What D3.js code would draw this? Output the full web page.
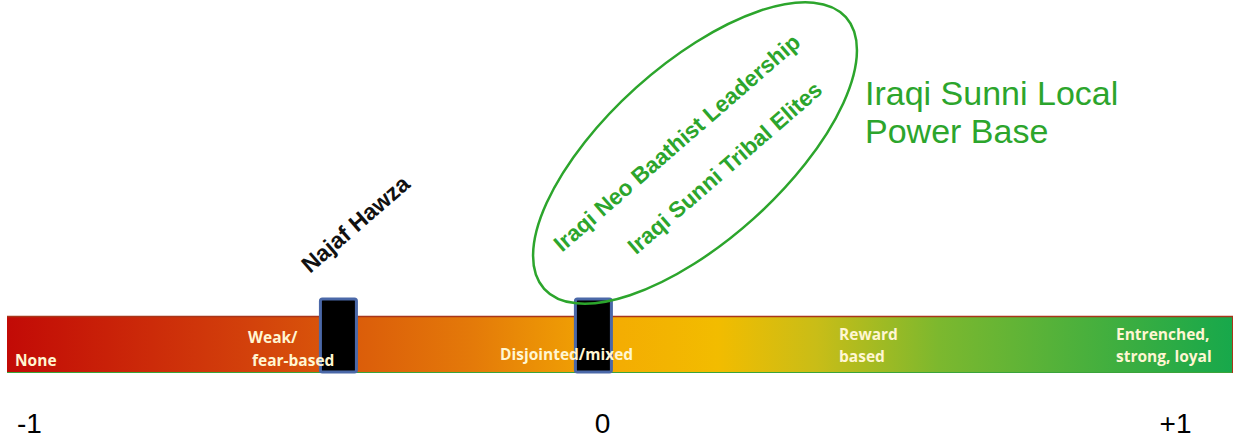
<!DOCTYPE html>
<html>
<head>
<meta charset="utf-8">
<script src="https://cdn.jsdelivr.net/npm/d3@7"></script>
<style>
  html, body { margin: 0; padding: 0; background: #fff; }
  svg { display: block; }
</style>
</head>
<body>
<svg id="chart" width="1236" height="443"></svg>
<script>
// ---- data ----
const tickValues = [-1, 0, 1];
const tickLabels = ["-1", "0", "+1"];
const levelLabels = [["None"], ["Weak/", "fear-based"], ["Disjointed/mixed"], ["Reward", "based"], ["Entrenched,", "strong, loyal"]];
const actorNames = ["Najaf Hawza", "Iraqi Sunni Local Power Base"];
const actorValues = [-0.46, -0.015];
const groupMembers = ["Iraqi Neo Baathist Leadership", "Iraqi Sunni Tribal Elites"];
const groupTitle = ["Iraqi Sunni Local", "Power Base"];
const gradientStops = [0, 0.2, 0.38, 0.5, 0.58, 0.66, 0.76, 1];
const gradientColors = ["#c20a06", "#d3420b", "#e47a09", "#f4ad02", "#f2bc00", "#c9bd17", "#7cb82e", "#17a84b"];

// ---- layout ----
const W = 1236, H = 443;
const barTop = 316, barBottom = 373, barLeft = 7, barRight = 1233;
const boxTop = 299, boxW = 36;
const levelLayout = [
  {x: 15, dx: [0], y: [366]},
  {x: 248, dx: [0, 4], y: [343, 366]},
  {x: 500, dx: [0], y: [360]},
  {x: 839, dx: [0, 0], y: [340, 362]},
  {x: 1116, dx: [0, 0], y: [340, 362]}
];
const green = "#2ca52c";

const svg = d3.select("#chart");
const x = d3.scaleLinear().domain([-1, 1]).range([29, 1175]);

// gradient
const defs = svg.append("defs");
const grad = defs.append("linearGradient").attr("id", "scaleGrad")
  .attr("x1", "0%").attr("x2", "100%").attr("y1", "0%").attr("y2", "0%");
grad.selectAll("stop").data(gradientStops).join("stop")
  .attr("offset", d => d)
  .attr("stop-color", (d, i) => gradientColors[i]);

// bar
svg.append("rect")
  .attr("x", barLeft).attr("y", barTop)
  .attr("width", barRight - barLeft).attr("height", barBottom - barTop)
  .attr("fill", "url(#scaleGrad)");
svg.append("line").attr("x1", barLeft).attr("x2", barRight)
  .attr("y1", barTop + 0.5).attr("y2", barTop + 0.5)
  .attr("stroke", "#a8361a").attr("stroke-width", 1.5);
svg.append("line").attr("x1", barLeft).attr("x2", barRight)
  .attr("y1", barBottom - 0.5).attr("y2", barBottom - 0.5)
  .attr("stroke", "#3aa43a").attr("stroke-width", 1.2);
svg.append("line").attr("x1", barRight - 0.5).attr("x2", barRight - 0.5)
  .attr("y1", barTop).attr("y2", barBottom)
  .attr("stroke", "#a8361a").attr("stroke-width", 1);

// marker boxes
svg.selectAll("rect.marker").data(actorValues).join("rect")
  .attr("class", "marker")
  .attr("x", d => x(d) - boxW / 2)
  .attr("y", boxTop)
  .attr("width", boxW)
  .attr("height", barBottom - boxTop - 1)
  .attr("rx", 2)
  .attr("fill", "#000")
  .attr("stroke", "#4a68a8")
  .attr("stroke-width", 3);

// level labels (drawn over the boxes)
const lvl = svg.append("g")
  .attr("font-family", "'Open Sans', Lato, sans-serif")
  .attr("font-weight", "bold")
  .attr("font-size", 15.5)
  .attr("fill", "#fff6d2");
levelLabels.forEach((lines, i) => {
  const L = levelLayout[i];
  lines.forEach((t, j) => {
    lvl.append("text").attr("x", L.x + L.dx[j]).attr("y", L.y[j]).text(t);
  });
});

// axis ticks
const axis = d3.axisBottom(x).tickValues(tickValues).tickSize(0)
  .tickFormat((d, i) => tickLabels[i]);
const ax = svg.append("g").attr("transform", "translate(0,402)").call(axis);
ax.select(".domain").remove();
ax.selectAll("text")
  .attr("font-family", "Arial, 'Liberation Sans', sans-serif")
  .attr("font-size", 28)
  .attr("fill", "#000")
  .attr("dy", "1em");

// Najaf Hawza label
svg.append("text")
  .attr("transform", `translate(${x(actorValues[0]) + 17},224) rotate(-41)`)
  .attr("text-anchor", "middle")
  .attr("dominant-baseline", "central")
  .attr("font-family", "Arial, 'Liberation Sans', sans-serif")
  .attr("font-weight", "bold")
  .attr("font-size", 23)
  .attr("fill", "#111")
  .text(actorNames[0]);

// ellipse grouping
svg.append("ellipse")
  .attr("transform", "translate(695,153) rotate(-42)")
  .attr("rx", 203).attr("ry", 88)
  .attr("fill", "none")
  .attr("stroke", green)
  .attr("stroke-width", 2.5);

const memberPos = [[677, 143], [725, 168]];
groupMembers.forEach((t, i) => {
  svg.append("text")
    .attr("transform", `translate(${memberPos[i][0]},${memberPos[i][1]}) rotate(-41)`)
    .attr("text-anchor", "middle")
    .attr("dominant-baseline", "central")
    .attr("font-family", "Arial, 'Liberation Sans', sans-serif")
    .attr("font-weight", "bold")
    .attr("font-size", 22.5)
    .attr("fill", green)
    .text(t);
});

// group title
groupTitle.forEach((t, i) => {
  svg.append("text")
    .attr("x", 865).attr("y", 105 + i * 38)
    .attr("font-family", "Arial, 'Liberation Sans', sans-serif")
    .attr("font-size", 34)
    .attr("fill", green)
    .text(t);
});
</script>
</body>
</html>
